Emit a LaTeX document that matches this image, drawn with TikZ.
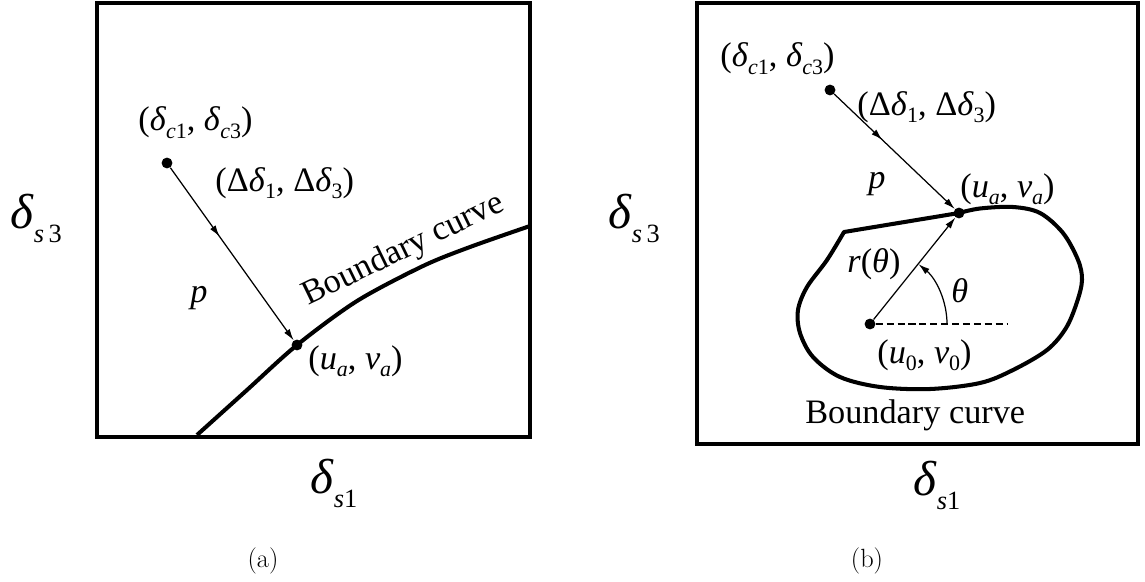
\documentclass[tikz,border=0pt]{standalone}
\usepackage{fontspec}
\usepackage{tikz}
\usetikzlibrary{arrows.meta,decorations.markings}
\newfontfamily\tnr{Liberation Serif}
\newcommand{\dlt}{\textit{δ}}
\newcommand{\lo}[1]{\raisebox{-4pt}{\fontsize{12.5}{12.5}\selectfont #1}}
\newcommand{\blo}[1]{\raisebox{-8.5pt}{\fontsize{15}{15}\selectfont #1}}

\begin{document}
\begin{tikzpicture}[x=0.02cm,y=-0.02cm,every node/.style={font=\tnr\fontsize{19.5}{22}\selectfont,inner sep=0pt,anchor=base west}]
      \tikzstyle{dot}=[circle,fill,minimum size=6.2pt,inner sep=0pt,anchor=center];
      \tikzstyle{boxline}=[line width=2.2pt];
      \tikzstyle{bd}=[line width=2.3pt,line join=round];
      \tikzstyle{vec}=[line width=0.7pt,-{Latex[length=6.5pt,width=3.8pt]}];
      \tikzstyle{midvec}=[vec,postaction={decorate},
                          decoration={markings,mark=at position 0.4 with {\arrow{Latex[length=6.5pt,width=3.8pt]}}}];
      \tikzstyle{big}=[font=\tnr\fontsize{28}{30}\selectfont];
      \tikzstyle{subcap}=[font=\normalfont\fontsize{15}{18}\selectfont,anchor=base];
      \useasboundingbox (0,0) rectangle (1145,581);
      \draw[boxline] (97,3) rectangle (530,437);
      \node[dot] (ca) at (167,163) {};
      \node[dot] (ua) at (297,345) {};
      \draw[bd] plot[smooth,tension=0.5] coordinates {(197,435) (247,390) (297,345) (357,301) (423,266) (470,247) (530,226)};
      \draw[midvec] (ca) -- (ua);
      \node (lca) at (138,131) {(\dlt\lo{\textit{c}1}, \dlt\lo{\textit{c}3})};
      \node (lda) at (215,191) {(Δ\dlt\lo{1}, Δ\dlt\lo{3})};
      \node (pa)  at (190,302) {\textit{p}};
      \node (lua) at (308,369) {(\textit{u}\lo{\textit{a}}, \textit{v}\lo{\textit{a}})};
      \node[rotate=26] (bca) at (308,306) {Boundary curve};
      \node[big] (s3a) at (10,228) {\dlt\blo{\textit{s}\,3}};
      \node[big] (s1a) at (310,493) {\dlt\blo{\textit{s}1}};
      \node[subcap] (capa) at (263,567) {(a)};
      \draw[boxline] (697,3) rectangle (1138,444);
      \node[dot] (cb) at (830,90) {};
      \node[dot] (ub) at (959,213) {};
      \node[dot] (ob) at (870,324) {};
      \draw[bd] plot[smooth,tension=0.55] coordinates {(959,213) (980,208.5) (1013,207) (1040,213) (1063,233) (1078,260)
                (1082,280) (1077,302) (1066,328) (1047,350) (1013,370) (980,383) (930,389) (880,387) (840,377)
                (813,357) (800,333) (798,310) (807,287) (827,260) (844,232)} -- cycle;
      \coordinate (dend) at (1008,324);
      \coordinate (th0) at (947,324);
      \coordinate (th1) at (918.5,264.2);
      \draw[dashed,line width=0.7pt,dash pattern=on 4pt off 2.2pt] (ob) -- (dend);
      \draw[midvec] (cb) -- (ub);
      \draw[vec] (ob) -- (ub);
      \draw[vec] (th0) .. controls (947,300.8) and (936,278.6) .. (th1);
      \node (lcb) at (720,67) {(\dlt\lo{\textit{c}1}, \dlt\lo{\textit{c}3})};
      \node (ldb) at (857,115) {(Δ\dlt\lo{1}, Δ\dlt\lo{3})};
      \node (pb)  at (868,188) {\textit{p}};
      \node (lub) at (960,197) {(\textit{u}\lo{\textit{a}}, \textit{v}\lo{\textit{a}})};
      \node (rb)  at (847,272) {\textit{r}(\textit{θ})};
      \node (thb) at (951,302) {\textit{θ}};
      \node (lob) at (877,363) {(\textit{u}\lo{0}, \textit{v}\lo{0})};
      \node (bcb) at (805,423) {Boundary curve};
      \node[big] (s3b) at (608,228) {\dlt\blo{\textit{s}\,3}};
      \node[big] (s1b) at (913,495) {\dlt\blo{\textit{s}1}};
      \node[subcap] (capb) at (867,567) {(b)};
    \end{tikzpicture}
\end{document}
